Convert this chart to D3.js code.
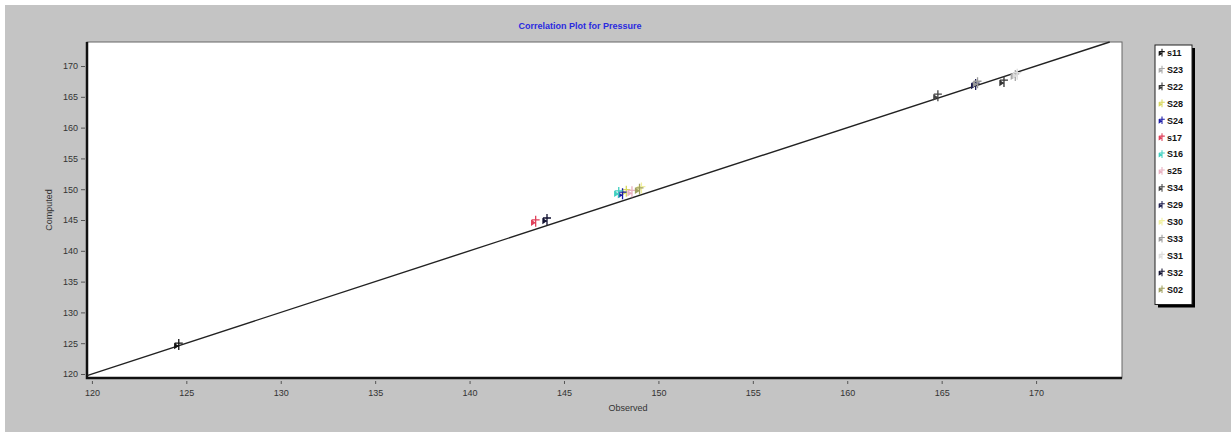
<!DOCTYPE html>
<html>
<head>
<meta charset="utf-8">
<script src="https://cdn.jsdelivr.net/npm/d3@7"></script>
<style>
  body { margin: 0; background: #fff; }
  text { font-family: "Liberation Sans", Arial, sans-serif; }
</style>
</head>
<body>
<div id="chart"></div>
<script>
// series names, colours and the single observed/computed pair of each
var seriesNames = ["s11", "S23", "S22", "S28", "S24", "s17", "S16", "s25", "S34", "S29", "S30", "S33", "S31", "S32", "S02"];
var seriesColors = ["#111111", "#a8a8a8", "#333333", "#d8d860", "#1a1aa8", "#e0405a", "#40d0c0", "#e8b0c0", "#444444", "#202050", "#f0f0a0", "#9a9a9a", "#dcdcdc", "#101030", "#a0a060"];
var observed = [124.6, 168.9, 168.3, 148.3, 148.1, 143.5, 147.9, 148.6, 164.8, 166.8, 149.1, 166.9, 169.0, 144.1, 149.0];
var computed = [124.7, 168.4, 167.4, 149.6, 149.2, 144.7, 149.4, 149.5, 165.1, 166.9, 150.1, 167.2, 168.6, 145.0, 149.9];
var tickValues = [120, 125, 130, 135, 140, 145, 150, 155, 160, 165, 170];

var W = 1231, H = 432;
var plot = {left: 87, top: 42, right: 1122, bottom: 378};

var svg = d3.select("#chart").append("svg")
    .attr("width", W)
    .attr("height", H);

// grey window background
svg.append("rect")
    .attr("x", 5).attr("y", 5)
    .attr("width", W - 5).attr("height", H - 5)
    .attr("fill", "#c4c4c4");

var xScale = d3.scaleLinear()
    .domain([119.74, 174.55])
    .range([plot.left, plot.right]);

var yScale = d3.scaleLinear()
    .domain([119.35, 173.9])
    .range([plot.bottom, plot.top]);

// plot area
svg.append("rect")
    .attr("x", plot.left).attr("y", plot.top)
    .attr("width", plot.right - plot.left)
    .attr("height", plot.bottom - plot.top)
    .attr("fill", "#fff")
    .attr("stroke", "#666")
    .attr("stroke-width", 1);

svg.append("path")
    .attr("d", "M" + plot.left + "," + plot.top + "V" + plot.bottom + "H" + plot.right)
    .attr("fill", "none")
    .attr("stroke", "#111")
    .attr("stroke-width", 2.5);

// axes
var xAxis = d3.axisBottom(xScale).tickValues(tickValues).tickSize(3).tickSizeOuter(0);
var yAxis = d3.axisLeft(yScale).tickValues(tickValues).tickSize(4).tickSizeOuter(0);

var gx = svg.append("g")
    .attr("transform", "translate(0," + (plot.bottom + 3) + ")")
    .call(xAxis);
var gy = svg.append("g")
    .attr("transform", "translate(" + (plot.left - 2) + ",0)")
    .call(yAxis);

[gx, gy].forEach(function(g) {
    g.select(".domain").remove();
    g.selectAll(".tick line").attr("stroke", "#555");
    g.selectAll(".tick text")
        .attr("fill", "#333")
        .style("font-size", "9px");
});
gx.selectAll(".tick text").attr("dy", "1em");

svg.append("text")
    .attr("x", 628).attr("y", 411)
    .attr("text-anchor", "middle")
    .attr("fill", "#333")
    .style("font-size", "9px")
    .text("Observed");

svg.append("text")
    .attr("transform", "translate(52,210) rotate(-90)")
    .attr("text-anchor", "middle")
    .attr("fill", "#333")
    .style("font-size", "9px")
    .text("Computed");

svg.append("text")
    .attr("x", 580).attr("y", 29)
    .attr("text-anchor", "middle")
    .attr("fill", "#2a2ae0")
    .style("font-size", "9px")
    .style("font-weight", "bold")
    .text("Correlation Plot for Pressure");

// 1:1 line
var lo = Math.max(xScale.domain()[0], yScale.domain()[0]);
var hi = Math.min(xScale.domain()[1], yScale.domain()[1]);
svg.append("line")
    .attr("x1", xScale(lo)).attr("y1", yScale(lo))
    .attr("x2", xScale(hi)).attr("y2", yScale(hi))
    .attr("stroke", "#222")
    .attr("stroke-width", 1.4);

// marker: small cross with a flag
var markerPath = "M0,-6V5M-4,-2H4M-4,-1L-1,1L-4,3Z";

var points = seriesNames.map(function(n, i) {
    return {name: n, color: seriesColors[i], x: observed[i], y: computed[i]};
});

svg.selectAll(".pt")
    .data(points)
    .enter()
    .append("path")
    .attr("class", "pt")
    .attr("transform", function(d) { return "translate(" + xScale(d.x) + "," + yScale(d.y) + ")"; })
    .attr("d", markerPath)
    .attr("stroke", function(d) { return d.color; })
    .attr("fill", function(d) { return d.color; })
    .attr("stroke-width", 1.3);

// legend
var lg = {x: 1155, y: 45, w: 37, step: 16.9};
var lgH = seriesNames.length * lg.step + 6;
svg.append("rect")
    .attr("x", lg.x + 3).attr("y", lg.y + 3)
    .attr("width", lg.w).attr("height", lgH)
    .attr("fill", "#000");
svg.append("rect")
    .attr("x", lg.x).attr("y", lg.y)
    .attr("width", lg.w).attr("height", lgH)
    .attr("fill", "#fff")
    .attr("stroke", "#222");

var items = svg.selectAll(".lg")
    .data(points)
    .enter()
    .append("g")
    .attr("class", "lg")
    .attr("transform", function(d, i) { return "translate(" + lg.x + "," + (lg.y + 11 + i * lg.step) + ")"; });

items.append("path")
    .attr("transform", "translate(7,-3) scale(0.7)")
    .attr("d", markerPath)
    .attr("stroke", function(d) { return d.color; })
    .attr("fill", function(d) { return d.color; })
    .attr("stroke-width", 1.5);

items.append("text")
    .attr("x", 12).attr("y", 0)
    .attr("fill", "#111")
    .style("font-size", "9px")
    .style("font-weight", "bold")
    .text(function(d) { return d.name; });
</script>
</body>
</html>
